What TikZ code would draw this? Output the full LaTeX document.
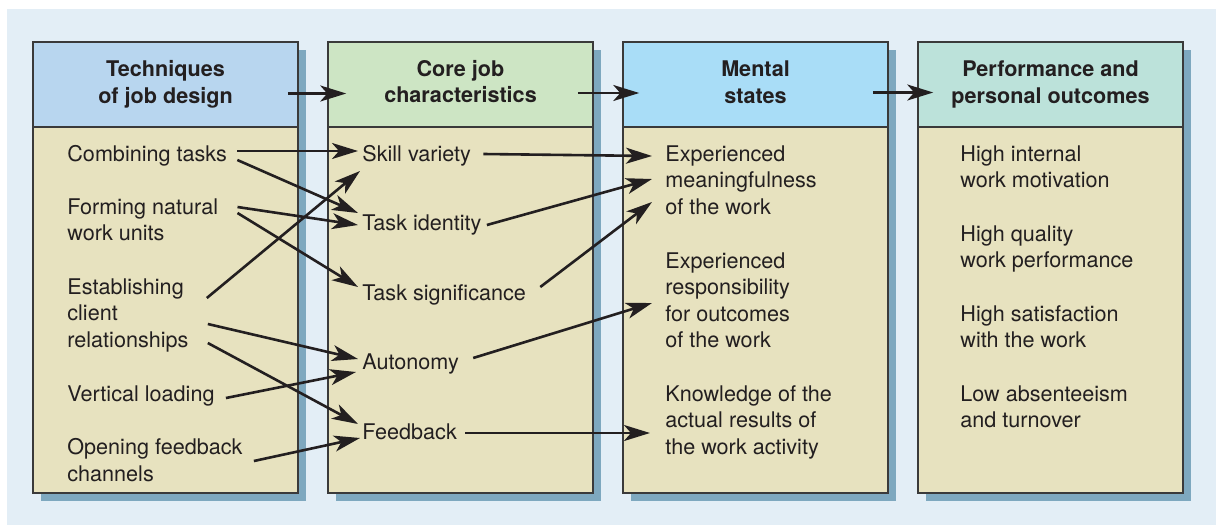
\documentclass[tikz,border=0pt]{standalone}
\usepackage{fontspec}
\setmainfont{TeX Gyre Heros}
\usepackage{tikz}
\usetikzlibrary{arrows.meta,positioning,calc}
\usepackage{xcolor}
\definecolor{bgblue}{HTML}{E3EEF6}
\definecolor{shadowblue}{HTML}{7EA8BF}
\definecolor{bodytan}{HTML}{E7E2BF}
\definecolor{framegrey}{HTML}{3A3A3A}
\definecolor{inkblack}{HTML}{231F20}
\definecolor{headblue}{HTML}{B8D6EF}
\definecolor{headgreen}{HTML}{CDE5C4}
\definecolor{headsky}{HTML}{A9DDF7}
\definecolor{headmint}{HTML}{BCE2DA}

\begin{document}
\begin{tikzpicture}[x=0.5pt, y=-0.5pt,
    every node/.style={font=\fontsize{10.8pt}{13.3pt}\selectfont, text=inkblack},
    headbox/.style={draw=framegrey, line width=0.75pt, minimum width=132.5pt,
        minimum height=42.5pt, inner sep=0pt},
    headtext/.style={inner sep=0pt, align=center,
        font=\fontsize{10.8pt}{13.3pt}\selectfont\bfseries},
    item/.style={anchor=north west, inner xsep=2pt, inner ysep=0pt, align=left},
    arr/.style={-{Stealth[length=13pt, width=8pt, inset=3.5pt]}, line width=1.3pt, inkblack}
]
    \useasboundingbox (0,0) rectangle (1216,525);
    \fill[bgblue] (7,9) rectangle (1216,525);

    % Columns with shadow
    \foreach \x in {33,328,623,918} {
        \fill[shadowblue] (\x+8,50) rectangle ++(265,451);
        \draw[framegrey, line width=0.75pt, fill=bodytan] (\x,42) rectangle ++(265,451);
    }

    % Headers
    \node[headbox, fill=headblue] (h1) at (165.5,84.5) {};
    \node[headbox, fill=headgreen] (h2) at (460.5,84.5) {};
    \node[headbox, fill=headsky] (h3) at (755.5,84.5) {};
    \node[headbox, fill=headmint] (h4) at (1050.5,84.5) {};
    \node[headtext] (t1) at ([shift={(0,0)}]h1.center) {Techniques\\of job design};
    \node[headtext] (t2) at ([shift={(0,-3)}]h2.center) {Core job\\characteristics};
    \node[headtext] (t3) at ([shift={(0,-2)}]h3.center) {Mental\\states};
    \node[headtext] (t4) at ([shift={(0,0)}]h4.center) {Performance and\\personal outcomes};

    \draw[arr] ([shift={(-11,9)}]h1.east) -- ([shift={(19,9)}]h2.west);
    \draw[arr] ([shift={(-16,8.5)}]h2.east) -- ([shift={(17,8.5)}]h3.west);
    \draw[arr] ([shift={(-16,8)}]h3.east) -- ([shift={(16,8)}]h4.west);

    % Techniques of job design
    \node[item] (comb) at (63,145) {Combining tasks};
    \node[item] (form) at (63,198) {Forming natural\\work units};
    \node[item] (estab) at (63,278) {Establishing\\client\\relationships};
    \node[item] (vert) at (63,385) {Vertical loading};
    \node[item] (open) at (63,438) {Opening feedback\\channels};

    % Core job characteristics
    \node[item] (skill) at (358,145) {Skill variety};
    \node[item] (ident) at (358,214) {Task identity};
    \node[item] (signif) at (358,284) {Task significance};
    \node[item] (auton) at (358,353) {Autonomy};
    \node[item] (feedb) at (358,423) {Feedback};

    % Mental states
    \node[item] (meaning) at (661,145) {Experienced\\meaningfulness\\of the work};
    \node[item] (respons) at (661,252) {Experienced\\responsibility\\for outcomes\\of the work};
    \node[item] (knowl) at (661,385) {Knowledge of the\\actual results of\\the work activity};

    % Performance and personal outcomes
    \node[item] (motiv) at (956,145) {High internal\\work motivation};
    \node[item] (qual) at (956,225) {High quality\\work performance};
    \node[item] (satis) at (956,305) {High satisfaction\\with the work};
    \node[item] (absent) at (956,385) {Low absenteeism\\and turnover};

    % Techniques -> characteristics
    \draw[arr] ([shift={(6,6)}]comb.north east) -- ([shift={(0,6)}]skill.north west);
    \draw[arr] ([shift={(6,15)}]comb.north east) -- ([shift={(0,-1)}]ident.north west);
    \draw[arr] ([shift={(15,9)}]form.north east) -- ([shift={(0,11)}]ident.north west);
    \draw[arr] ([shift={(15,15)}]form.north east) -- ([shift={(0,3)}]signif.north west);
    \draw[arr] ([shift={(14,20)}]estab.north east) -- ([shift={(2,26)}]skill.north west);
    \draw[arr] ([shift={(15,46)}]estab.north east) -- ([shift={(0,6)}]auton.north west);
    \draw[arr] ([shift={(15,65)}]estab.north east) -- ([shift={(0,1)}]feedb.north west);
    \draw[arr] ([shift={(7,13)}]vert.north east) -- ([shift={(-2,19)}]auton.north west);
    \draw[arr] ([shift={(7,23)}]open.north east) -- ([shift={(2,15)}]feedb.north west);

    % Characteristics -> mental states
    \draw[arr] ([shift={(8,9)}]skill.north east) -- ([shift={(-9,11)}]meaning.north west);
    \draw[arr] ([shift={(1,11)}]ident.north east) -- ([shift={(-9,34)}]meaning.north west);
    \draw[arr] ([shift={(10,3)}]signif.north east) -- ([shift={(-9,57)}]meaning.north west);
    \draw[arr] ([shift={(10,5)}]auton.north east) -- ([shift={(-9,51)}]respons.north west);
    \draw[arr] ([shift={(4,10)}]feedb.north east) -- ([shift={(-11,48)}]knowl.north west);
\end{tikzpicture}
\end{document}
